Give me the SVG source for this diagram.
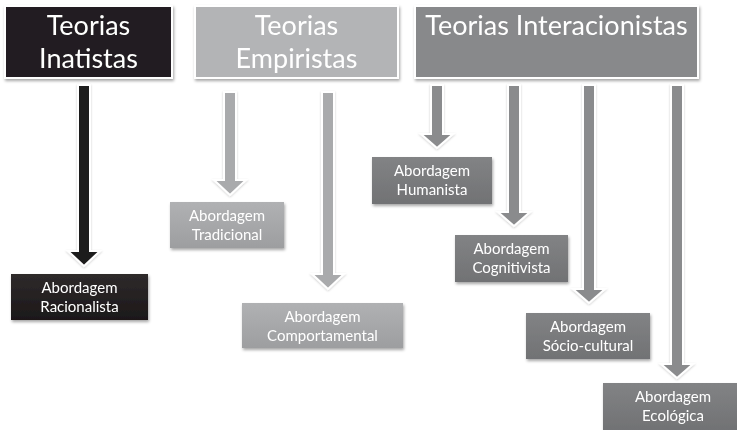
<svg xmlns="http://www.w3.org/2000/svg" width="737" height="430" viewBox="0 0 737 430">
<style>
.hdr{stroke:#ffffff;stroke-width:2}
.big{font-family:Lato,"Liberation Sans",sans-serif;font-size:27px;fill:#ffffff;text-anchor:middle}
.sm{font-family:Lato,"Liberation Sans",sans-serif;font-size:15px;fill:#ffffff;text-anchor:middle}
.arr{stroke:#ffffff;stroke-width:2;stroke-linejoin:miter}
</style>
<defs>
<filter id="sh" x="-10%" y="-10%" width="125%" height="130%">
<feDropShadow dx="1" dy="2" stdDeviation="1.5" flood-color="#000000" flood-opacity="0.35"/>
</filter>
<filter id="ash" x="-50%" y="-5%" width="200%" height="115%">
<feDropShadow dx="0" dy="1" stdDeviation="1" flood-color="#000000" flood-opacity="0.2"/>
</filter>
<linearGradient id="gDark" x1="0" y1="0" x2="0" y2="1">
<stop offset="0" stop-color="#2e2a2b"/><stop offset="1" stop-color="#1c1819"/>
</linearGradient>
<linearGradient id="gLight" x1="0" y1="0" x2="0" y2="1">
<stop offset="0" stop-color="#b0b1b3"/><stop offset="1" stop-color="#9d9ea0"/>
</linearGradient>
<linearGradient id="gMid" x1="0" y1="0" x2="0" y2="1">
<stop offset="0" stop-color="#828385"/><stop offset="1" stop-color="#717274"/>
</linearGradient>
</defs>
<rect width="737" height="430" fill="#ffffff"/>

<g id="connectors" filter="url(#ash)">
<path class="arr" fill="#1f1c1d" d="M78,85 H90 V251 H100 L84,266 L68,251 H78 Z"/>
<path class="arr" fill="#a9aaac" d="M224,92 H236 V180 H246 L230,195 L214,180 H224 Z"/>
<path class="arr" fill="#a9aaac" d="M322,92 H334 V274 H344 L328,289 L312,274 H322 Z"/>
<path class="arr" fill="#8a8b8d" d="M431,85 H443 V134 H453 L437,148 L421,134 H431 Z"/>
<path class="arr" fill="#8a8b8d" d="M508,85 H520 V212 H530 L514,226 L498,212 H508 Z"/>
<path class="arr" fill="#8a8b8d" d="M583,85 H595 V289 H605 L589,303 L573,289 H583 Z"/>
<path class="arr" fill="#8a8b8d" d="M671,85 H683 V364 H693 L677,378 L661,364 H671 Z"/>
</g>

<g id="teorias-inatistas" filter="url(#sh)">
<rect class="hdr" x="5" y="6" width="167" height="72" fill="#231f20"/>
<text class="big" x="88.5" y="35">Teorias</text>
<text class="big" x="88.5" y="68">Inatistas</text>
</g>
<g id="teorias-empiristas" filter="url(#sh)">
<rect class="hdr" x="195" y="6" width="203" height="72" fill="#b3b4b6"/>
<text class="big" x="296.5" y="35">Teorias</text>
<text class="big" x="296.5" y="68">Empiristas</text>
</g>
<g id="teorias-interacionistas" filter="url(#sh)">
<rect class="hdr" x="415" y="6" width="283" height="72" fill="#88898b"/>
<text class="big" x="556.5" y="35">Teorias Interacionistas</text>
</g>

<g id="abordagem-racionalista" filter="url(#sh)">
<rect x="11" y="274" width="137" height="46" fill="url(#gDark)"/>
<text class="sm" x="79.5" y="293">Abordagem</text>
<text class="sm" x="79.5" y="312">Racionalista</text>
</g>
<g id="abordagem-tradicional" filter="url(#sh)">
<rect x="170" y="202" width="114" height="46" fill="url(#gLight)"/>
<text class="sm" x="227" y="221">Abordagem</text>
<text class="sm" x="227" y="240">Tradicional</text>
</g>
<g id="abordagem-comportamental" filter="url(#sh)">
<rect x="242" y="303" width="161" height="45" fill="url(#gLight)"/>
<text class="sm" x="322.5" y="322">Abordagem</text>
<text class="sm" x="322.5" y="341">Comportamental</text>
</g>
<g id="abordagem-humanista" filter="url(#sh)">
<rect x="372" y="157" width="120" height="47" fill="url(#gMid)"/>
<text class="sm" x="432" y="176">Abordagem</text>
<text class="sm" x="432" y="195">Humanista</text>
</g>
<g id="abordagem-cognitivista" filter="url(#sh)">
<rect x="455" y="235" width="113" height="47" fill="url(#gMid)"/>
<text class="sm" x="511.5" y="254">Abordagem</text>
<text class="sm" x="511.5" y="273">Cognitivista</text>
</g>
<g id="abordagem-socio-cultural" filter="url(#sh)">
<rect x="526" y="313" width="124" height="46" fill="url(#gMid)"/>
<text class="sm" x="588" y="332">Abordagem</text>
<text class="sm" x="588" y="351">Sócio-cultural</text>
</g>
<g id="abordagem-ecologica" filter="url(#sh)">
<rect x="603" y="383" width="140" height="47" fill="url(#gMid)"/>
<text class="sm" x="673" y="402">Abordagem</text>
<text class="sm" x="673" y="421">Ecológica</text>
</g>
</svg>
